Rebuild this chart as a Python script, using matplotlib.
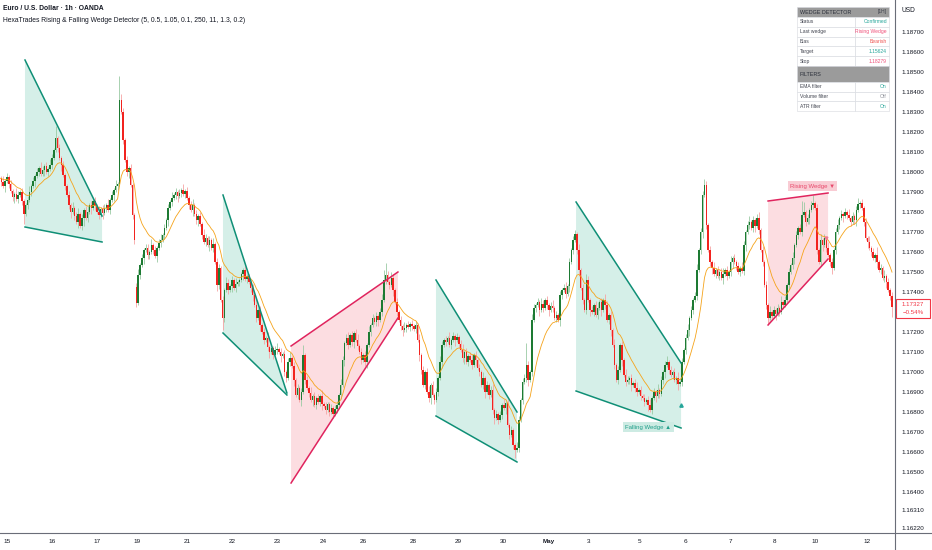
import numpy as np
import pandas as pd
import matplotlib
matplotlib.use("Agg")
import matplotlib.pyplot as plt
from matplotlib.patches import Rectangle, Polygon

# EURUSD 1h, OANDA. Prices kept as 1e-5 steps above 1.16000, wicks in pips.
BASE = 1.16
UNIT = 1e-5
PIP = 1e-4

first_open = 1960
gap_opens = {73: 1425}  # Sunday re-open with a gap

closes = [
    # Apr 14 tail / Apr 15
    1970, 1950, 1930, 1955, 1975, 1940, 1905, 1875, 1890, 1865, 1885, 1900, 1855, 1790,
    1835, 1860, 1900, 1930, 1955, 1980, 2000, 2020, 1990, 2010, 2030, 2000, 2015, 2035,
    # Apr 16
    2070, 2110, 2170, 2120, 2070, 2035, 1985, 1930, 1885, 1835, 1800, 1820, 1780,
    1750, 1790, 1730, 1770, 1810, 1770, 1800, 1835, 1820, 1855, 1830, 1800, 1785, 1815, 1795,
    # Apr 17
    1820, 1835, 1810, 1860, 1885, 1910, 1930, 1940, 2360,
    2300, 2160, 2060, 2000, 2020, 1935, 1785, 1660,
    # Apr 19 / 20
    1345, 1485, 1535, 1570, 1610, 1620, 1585, 1600, 1635, 1610, 1580, 1620, 1645, 1660,
    1685, 1720, 1760, 1820, 1850, 1870, 1885, 1900, 1880, 1895, 1910, 1890, 1905,
    # Apr 21
    1870, 1835, 1810, 1835, 1790, 1760, 1780, 1740, 1685, 1650, 1670, 1635, 1660, 1620, 1640,
    1550, 1435, 1520, 1360, 1270, 1410, 1445, 1410, 1430, 1460, 1420, 1440, 1450,
    # Apr 22
    1460, 1490, 1510, 1465, 1480, 1450, 1420, 1385, 1335, 1270, 1310, 1235,
    1200, 1160, 1170, 1125, 1100, 1120, 1085, 1110, 1115, 1100, 1080, 1090, 1000, 970,
    1050, 1070, 1030,
    # Apr 23
    960, 885, 920, 860, 900, 1085, 960, 920, 895, 860, 880, 835, 870, 850, 880, 840,
    830, 810, 840, 800, 820, 790, 815, 835, 885, 935, 1060, 1145,
    # Apr 24
    1170, 1135, 1185, 1150, 1195, 1160, 1130, 1100, 1060, 1085, 1050,
    1135, 1200, 1235, 1270, 1250, 1280, 1260, 1300, 1360,
    1460, 1485, 1450, 1435, 1470, 1410, 1350, 1300,
    # Apr 26 / 27
    1260, 1230, 1210, 1220, 1235, 1225, 1240, 1230, 1215, 1235, 1160, 1085,
    1010, 935, 1000, 900, 870, 935, 885, 860, 900, 970, 1050, 1135, 1160,
    # Apr 28
    1150, 1170, 1135, 1160, 1180, 1160, 1175, 1140, 1110, 1070, 1100, 1050, 1080,
    1060, 1035, 1085, 1060, 1020, 1000, 935, 970, 900, 935, 885, 910,
    810, 770, 790, 760, 785,
    # Apr 29 / 30
    835, 820, 845, 735, 685, 710, 635, 610, 620, 760, 860, 950, 970, 1035, 960, 1000,
    1260, 1320, 1335, 1350, 1310, 1340, 1320, 1360, 1335, 1310, 1330, 1320, 1270, 1285, 1260,
    # May 1 / 3
    1385, 1410, 1420, 1390, 1430, 1550, 1610, 1660, 1690, 1610, 1510, 1420, 1360, 1310,
    1460, 1360, 1310, 1300, 1335, 1285, 1320, 1350, 1310, 1360, 1335, 1260, 1285, 1210,
    # May 4 / 5
    1135, 1035, 960, 1010, 1135, 1060, 985, 950, 960, 970, 935, 945, 920, 900, 910, 880,
    870, 850, 860, 835, 810, 870, 900, 880, 910, 890, 960, 1000, 1035, 1050, 1010,
    985, 1000, 960, 970, 940, 950,
    # May 6
    1050, 1110, 1170, 1210, 1270, 1310, 1360, 1380, 1510, 1610, 1700, 1885, 1935,
    1735, 1610, 1550, 1520, 1490, 1510, 1480, 1500, 1470, 1490, 1510, 1480, 1500,
    1550, 1570, 1550, 1530, 1500, 1520, 1505,
    # May 7 / 8 / 10
    1635, 1700, 1735, 1750, 1720, 1760, 1730, 1770, 1710, 1610, 1550, 1435, 1335,
    1270, 1300, 1280, 1310, 1290, 1320, 1300, 1350, 1335, 1360, 1435, 1500, 1535, 1570,
    1635, 1685, 1720, 1700, 1785, 1800, 1750, 1770, 1810, 1835, 1845, 1820,
    # May 11 / 12
    1610, 1550, 1660, 1635, 1670, 1620, 1585, 1550, 1520, 1610, 1700, 1735,
    1770, 1790, 1780, 1800, 1785, 1770, 1750, 1780, 1760, 1810, 1840, 1845,
    1820, 1750, 1670, 1650, 1620, 1600, 1570, 1585, 1550, 1510, 1520, 1470,
    1480, 1450, 1410, 1380, 1327,
]

upper_wick = [
    2, 1, 3, 1, 2, 1, 2, 1, 1, 3, 2, 1, 2, 1, 1, 2, 3, 1, 2, 1,
    2, 1, 3, 2, 1, 2, 1, 3, 2, 1, 6, 1, 2, 1, 2, 1, 1, 2, 1, 3,
    1, 2, 3, 1, 2, 1, 2, 3, 1, 2, 1, 2, 1, 3, 1, 2, 2, 1, 3, 1,
    2, 1, 3, 1, 12, 3, 2, 1, 2, 1, 2, 1, 1, 2, 3, 1, 2, 1, 2, 2,
    1, 3, 1, 2, 1, 2, 3, 1, 2, 1, 2, 1, 3, 1, 2, 1, 2, 1, 3, 1,
    2, 1, 2, 3, 1, 2, 1, 2, 1, 3, 2, 1, 2, 1, 3, 1, 2, 2, 1, 2,
    1, 3, 2, 1, 2, 1, 3, 1, 1, 1, 1, 2, 1, 1, 1, 2, 1, 3, 1, 2,
    1, 2, 1, 3, 1, 2, 1, 2, 3, 1, 2, 1, 2, 1, 2, 3, 1, 2, 1, 2,
    1, 2, 5, 1, 2, 1, 3, 1, 2, 1, 2, 1, 3, 1, 2, 1, 1, 2, 1, 2,
    2, 1, 3, 2, 1, 2, 3, 1, 2, 1, 2, 3, 1, 2, 1, 2, 1, 3, 1, 2,
    1, 2, 1, 2, 3, 5, 6, 2, 1, 3, 2, 1, 2, 1, 2, 1, 3, 1, 2, 1,
    2, 1, 2, 1, 3, 1, 2, 1, 2, 3, 1, 2, 1, 2, 1, 3, 2, 1, 2, 1,
    3, 1, 2, 1, 2, 1, 2, 3, 1, 2, 1, 2, 3, 1, 2, 1, 2, 1, 3, 1,
    2, 1, 2, 3, 1, 2, 1, 2, 1, 3, 1, 2, 1, 2, 1, 1, 3, 2, 1, 2,
    2, 11, 2, 1, 3, 2, 1, 2, 1, 3, 2, 1, 2, 1, 2, 3, 1, 2, 1, 2,
    1, 2, 3, 1, 2, 1, 2, 2, 1, 3, 1, 2, 1, 3, 2, 1, 2, 1, 2, 3,
    1, 2, 1, 3, 2, 1, 2, 1, 3, 1, 2, 1, 2, 1, 3, 2, 1, 2, 1, 2,
    3, 1, 2, 1, 2, 1, 2, 3, 1, 2, 1, 3, 1, 2, 1, 2, 3, 1, 2, 1,
    2, 1, 3, 1, 2, 1, 2, 3, 1, 2, 1, 2, 3, 1, 2, 2, 3, 2, 1, 2,
    1, 3, 1, 2, 1, 2, 3, 1, 2, 1, 3, 1, 2, 1, 2, 1, 3, 2, 1, 2,
    3, 1, 2, 1, 2, 3, 1, 2, 1, 2, 1, 3, 1, 2, 1, 2, 1, 3, 1, 2,
    1, 2, 1, 3, 1, 2, 1, 2, 7, 5, 1, 2, 1, 2, 4, 1, 2, 1, 3, 1,
    2, 1, 3, 1, 2, 1, 2, 3, 1, 2, 1, 2, 1, 3, 1, 2, 1, 2, 3, 1,
    2, 1, 2, 1, 3, 1, 2, 1, 4, 1, 2, 1, 3, 1, 2, 1, 2,
]

lower_wick = [
    1, 2, 1, 3, 1, 2, 1, 2, 3, 1, 2, 1, 2, 5, 1, 2, 1, 2, 1, 3,
    1, 2, 1, 1, 3, 1, 2, 1, 2, 1, 1, 2, 1, 3, 1, 2, 1, 2, 3, 1,
    2, 1, 3, 1, 2, 4, 1, 2, 1, 3, 1, 2, 1, 2, 1, 3, 1, 2, 1, 2,
    1, 3, 1, 2, 1, 1, 2, 1, 2, 3, 1, 2, 2, 2, 1, 2, 1, 3, 1, 2,
    2, 1, 2, 1, 3, 1, 2, 1, 2, 1, 3, 1, 2, 1, 2, 3, 1, 2, 1, 2,
    1, 2, 1, 3, 1, 2, 3, 1, 2, 1, 2, 1, 3, 1, 2, 1, 3, 2, 1, 6,
    2, 1, 2, 1, 3, 1, 2, 1, 2, 1, 3, 1, 2, 1, 2, 3, 1, 2, 1, 3,
    1, 2, 1, 2, 3, 1, 2, 1, 2, 1, 3, 1, 2, 2, 1, 2, 1, 3, 1, 2,
    1, 3, 1, 2, 1, 2, 1, 3, 1, 2, 1, 2, 3, 1, 2, 1, 2, 1, 2, 1,
    2, 1, 2, 1, 3, 1, 2, 1, 2, 3, 1, 2, 1, 2, 1, 2, 3, 1, 2, 1,
    1, 2, 3, 1, 2, 1, 2, 1, 2, 1, 3, 1, 2, 1, 2, 3, 1, 2, 1, 2,
    2, 1, 2, 1, 3, 2, 1, 2, 1, 2, 3, 1, 2, 1, 2, 1, 3, 1, 2, 1,
    1, 2, 1, 3, 1, 2, 1, 2, 3, 1, 2, 1, 2, 1, 3, 1, 2, 1, 2, 3,
    1, 2, 1, 2, 3, 1, 2, 1, 2, 1, 3, 1, 2, 1, 2, 4, 1, 2, 1, 2,
    1, 2, 3, 1, 2, 1, 2, 1, 3, 1, 2, 1, 2, 3, 1, 2, 1, 2, 1, 3,
    2, 1, 2, 1, 3, 1, 2, 1, 2, 3, 1, 2, 1, 2, 1, 3, 1, 2, 1, 2,
    1, 3, 1, 2, 1, 2, 3, 1, 2, 1, 2, 1, 3, 1, 2, 1, 2, 3, 1, 2,
    2, 1, 2, 1, 2, 1, 3, 1, 2, 1, 3, 1, 2, 1, 2, 3, 1, 2, 1, 2,
    1, 2, 3, 1, 2, 1, 2, 1, 3, 1, 2, 1, 2, 1, 2, 3, 1, 2, 1, 2,
    3, 1, 2, 1, 2, 1, 3, 1, 2, 1, 2, 3, 1, 2, 1, 2, 1, 2, 3, 1,
    2, 1, 2, 3, 1, 2, 1, 2, 1, 2, 3, 1, 2, 1, 3, 1, 2, 1, 2, 1,
    1, 2, 1, 2, 3, 1, 2, 1, 2, 1, 2, 1, 3, 1, 2, 1, 2, 1, 2, 3,
    1, 2, 1, 2, 3, 1, 2, 1, 2, 1, 3, 1, 2, 1, 2, 1, 2, 3, 1, 2,
    1, 2, 1, 3, 1, 2, 1, 2, 3, 1, 2, 1, 2, 3, 1, 2, 5,
]

# date labels on the time axis (candle index where each day starts)
day_pos = [4, 28, 52, 73.3, 100, 124, 148, 172.5, 194, 220.5, 244.5, 269,
           293, 314.4, 341.6, 365.6, 389.6, 413.6, 435, 462.7]
day_labels = ["15", "16", "17", "19", "21", "22", "23", "24", "26", "28", "29",
              "30", "May", "3", "5", "6", "7", "8", "10", "12"]

price_ticks = [1.187, 1.186, 1.185, 1.184, 1.183, 1.182, 1.181, 1.180, 1.179,
               1.178, 1.177, 1.176, 1.175, 1.174, 1.173, 1.172, 1.171, 1.170,
               1.169, 1.168, 1.167, 1.166, 1.165, 1.164, 1.1631, 1.1622]

# detected wedges: kind, start idx, end idx, upper line (start, end), lower line (start, end)
wedges = [
    ("falling", 13.6, 54.7, 1.18560, 1.17780, 1.17725, 1.17650),
    ("falling", 119.2, 153.3, 1.17885, 1.16895, 1.17195, 1.16885),
    ("rising", 155.5, 212.5, 1.17130, 1.17500, 1.16445, 1.17270),
    ("falling", 232.8, 276.0, 1.17460, 1.16800, 1.16780, 1.16550),
    ("falling", 307.5, 363.5, 1.17850, 1.17045, 1.16905, 1.16720),
    ("rising", 409.9, 441.9, 1.17855, 1.17895, 1.17235, 1.17565),
]

table_rows = [("Status", "Confirmed"), ("Last wedge", "Rising Wedge"),
              ("Bias", "Bearish"), ("Target", "1.15624"), ("Stop", "1.18279")]
filter_rows = [("EMA filter", "On"), ("Volume filter", "Off"), ("ATR filter", "On")]

TEAL = "#26a69a"
PINK = "#f0507a"
UP_BODY, DOWN_BODY = "#1d7a33", "#f2231f"
UP_WICK, DOWN_WICK = "#9acaa3", "#f6a3a3"
FONT = ["Liberation Sans", "DejaVu Sans"]
TEXT = "#131722"


def main():
    plt.rcParams["font.family"] = FONT
    c = BASE + np.array(closes) * UNIT
    o = np.empty_like(c)
    o[0] = BASE + first_open * UNIT
    o[1:] = c[:-1]
    for k, v in gap_opens.items():
        o[k] = BASE + v * UNIT
    hi = np.maximum(o, c) + np.array(upper_wick) * PIP
    lo = np.minimum(o, c) - np.array(lower_wick) * PIP
    x = np.arange(len(c))
    up = c >= o

    fig = plt.figure(figsize=(9.32, 5.5), dpi=100)
    ax = fig.add_axes([0, 17 / 550, 895 / 932, 533 / 550])
    ax.set_xlim(0.27, 477.6)
    ax.set_ylim(1.16195, 1.1886)

    # wedge fills and lines
    for kind, i0, i1, u0, u1, l0, l1 in wedges:
        fill = "#d5efe8" if kind == "falling" else "#fcdde1"
        line = "#0f8f76" if kind == "falling" else "#e0245e"
        ax.add_patch(Polygon([(i0, u0), (i1, u1), (i1, l1), (i0, l0)],
                             closed=True, facecolor=fill, edgecolor="none", zorder=1))
        ax.plot([i0, i1], [u0, u1], color=line, lw=1.1, zorder=4)
        ax.plot([i0, i1], [l0, l1], color=line, lw=1.1, zorder=4)

    # candles
    ax.vlines(x[up], lo[up], hi[up], color=UP_WICK, lw=0.6, zorder=2)
    ax.vlines(x[~up], lo[~up], hi[~up], color=DOWN_WICK, lw=0.6, zorder=2)
    body = np.maximum(np.abs(c - o), 0.00003)
    ax.bar(x[up], body[up], bottom=np.minimum(o, c)[up], width=0.8,
           color=UP_BODY, linewidth=0, zorder=3)
    ax.bar(x[~up], body[~up], bottom=np.minimum(o, c)[~up], width=0.8,
           color=DOWN_BODY, linewidth=0, zorder=3)

    ema = pd.Series(c).ewm(span=14, adjust=False).mean()
    ax.plot(x, ema, color="#f5a31a", lw=0.6, zorder=3.5)

    # pattern labels
    ax.text(346.1, 1.16725, "Falling Wedge ▲", fontsize=4.3, color="#1f9e89",
            ha="center", va="center", zorder=6,
            bbox=dict(boxstyle="square,pad=0.35", fc="#cdebe3", ec="none"))
    ax.text(433.6, 1.17930, "Rising Wedge ▼", fontsize=4.3, color="#e8486b",
            ha="center", va="center", zorder=6,
            bbox=dict(boxstyle="square,pad=0.35", fc="#f9ccd4", ec="none"))
    ax.plot([363.5], [1.16835], marker="^", ms=2.4, color=TEAL, zorder=6)
    ax.plot([440.8], [1.17670], marker="v", ms=2.0, color="#f07a92", zorder=6)

    for s in ax.spines.values():
        s.set_visible(False)
    ax.yaxis.tick_right()
    ax.set_yticks(price_ticks)
    ax.set_yticklabels([f"{p:.5f}" for p in price_ticks])
    ax.tick_params(axis="y", length=0, pad=5, labelsize=4.5, labelcolor=TEXT)
    ax.set_xticks(day_pos)
    ax.set_xticklabels(day_labels)
    ax.tick_params(axis="x", length=0, pad=4.5, labelsize=4.6, labelcolor=TEXT)
    for t in ax.get_xticklabels():
        if t.get_text() == "May":
            t.set_fontweight("bold")

    # overlay in pixel coordinates for chrome
    ov = fig.add_axes([0, 0, 1, 1], zorder=10)
    ov.set_xlim(0, 932)
    ov.set_ylim(550, 0)
    ov.axis("off")
    ov.plot([894.5, 894.5], [0, 550], color="#6a6d78", lw=0.8)
    ov.plot([0, 932], [533, 533], color="#6a6d78", lw=0.8)

    ov.text(3, 8.5, "Euro / U.S. Dollar · 1h · OANDA", fontsize=4.9,
            fontweight="bold", color=TEXT, va="center")
    ov.text(3, 20, "HexaTrades Rising & Falling Wedge Detector "
            "(5, 0.5, 1.05, 0.1, 250, 11, 1.3, 0.2)",
            fontsize=4.9, color=TEXT, va="center")
    ov.text(901, 10, "USD", fontsize=4.8, color=TEXT, va="center")

    # last price tag
    ov.add_patch(Rectangle((896, 299), 34, 19, fc="white", ec="#f23645", lw=0.8))
    ov.text(913, 304, "1.17327", fontsize=4.4, color="#f23645", ha="center", va="center")
    ov.text(913, 313, "−0.54%", fontsize=4.4, color="#f23645", ha="center", va="center")

    # info table
    x0, xm, x1 = 797, 855, 889
    edge = "#d6d8de"
    ts = 3.6
    ov.add_patch(Rectangle((x0, 7), x1 - x0, 10, fc="#9b9b9b", ec=edge, lw=0.4))
    ov.text(x0 + 3, 12, "WEDGE DETECTOR", fontsize=3.9, color="#2a2e39", va="center")
    ov.text(x1 - 2, 12, "[1H]", fontsize=3.5, color="#3a3e49", ha="right", va="center")
    colors = [TEAL, PINK, "#ef5350", TEAL, "#f0507a"]
    y = 17
    for (k, v), col in zip(table_rows, colors):
        ov.add_patch(Rectangle((x0, y), xm - x0, 9.8, fc="white", ec=edge, lw=0.4))
        ov.add_patch(Rectangle((xm, y), x1 - xm, 9.8, fc="white", ec=edge, lw=0.4))
        ov.text(x0 + 3, y + 4.9, k, fontsize=ts, color="#434651", va="center")
        ov.text(x1 - 2, y + 4.9, v, fontsize=ts, color=col, ha="right", va="center")
        y += 9.8
    ov.add_patch(Rectangle((x0, y), x1 - x0, 16, fc="#9b9b9b", ec=edge, lw=0.4))
    ov.text(x0 + 3, y + 8, "FILTERS", fontsize=3.9, color="#2a2e39", va="center")
    y += 16
    for k, v in filter_rows:
        col = TEAL if v == "On" else "#8a8d96"
        ov.add_patch(Rectangle((x0, y), xm - x0, 9.7, fc="white", ec=edge, lw=0.4))
        ov.add_patch(Rectangle((xm, y), x1 - xm, 9.7, fc="white", ec=edge, lw=0.4))
        ov.text(x0 + 3, y + 4.85, k, fontsize=ts, color="#434651", va="center")
        ov.text(x1 - 2, y + 4.85, v, fontsize=ts, color=col, ha="right", va="center")
        y += 9.7

    fig.savefig("out.png", dpi=100)


if __name__ == "__main__":
    main()
